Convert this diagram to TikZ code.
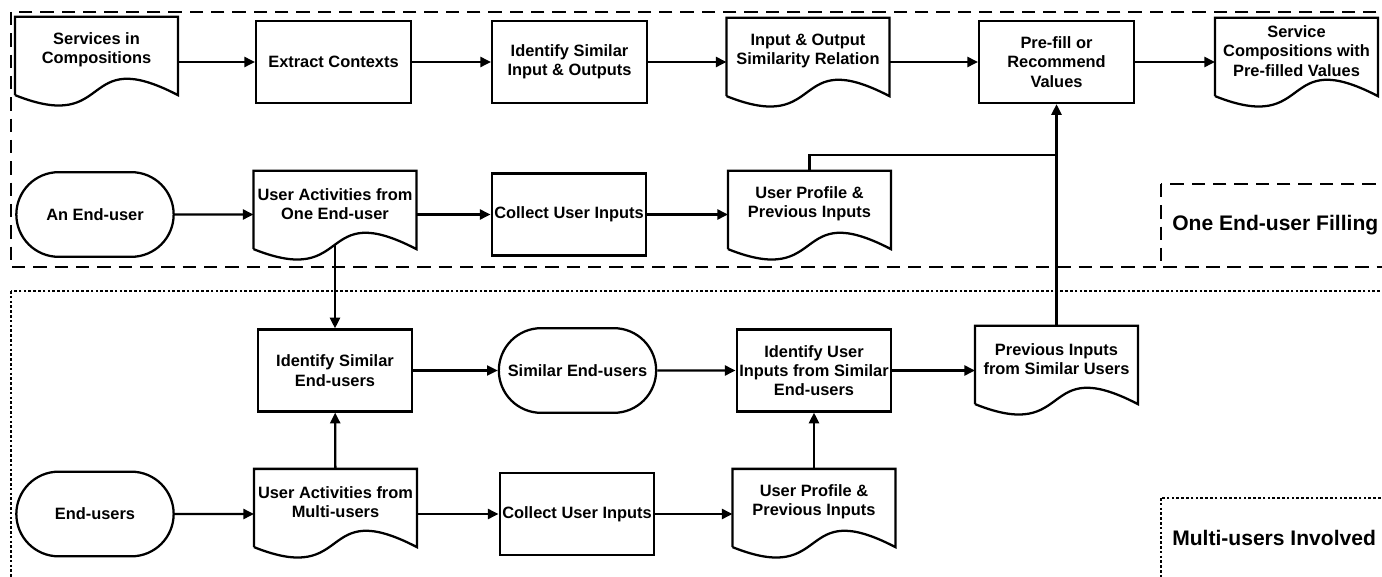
\documentclass[tikz,border=0pt]{standalone}
\usepackage{fontspec}
\setmainfont{Liberation Sans}
\usetikzlibrary{arrows.meta,shapes.misc}

\tikzset{
  flow/.style={line width=1.7pt, -{Triangle[length=8pt,width=7.5pt]}},
  wire/.style={line width=1.7pt},
  proc/.style={draw, line width=1.7pt, rectangle, minimum width=116pt, minimum height=61.5pt,
               inner sep=1pt, align=center, font=\bfseries\fontsize{12.3}{14.5}\selectfont},
  term/.style={proc, rounded rectangle, minimum width=120pt, minimum height=63.5pt},
  doc/.style={proc, draw=none, minimum width=120.5pt, minimum height=48pt},
  oneframe/.style={line width=1.5pt, dash pattern=on 10pt off 6pt},
  multiframe/.style={line width=1.5pt, dash pattern=on 2pt off 1.6pt},
  tag/.style={anchor=west, inner sep=0pt, font=\bfseries\fontsize{15.8}{18}\selectfont}
}

\begin{document}
\begin{tikzpicture}[x=0.75pt, y=-0.75pt]
  \useasboundingbox (0,0) rectangle (1382,577);
  \clip (0,0) rectangle (1382,577);

  % group frames
  \draw[oneframe] (11,12) rectangle (1420,267);
  \draw[multiframe] (11,291) rectangle (1420,620);
  \draw[oneframe] (1161,184) rectangle (1420,267);
  \draw[multiframe] (1161,498) rectangle (1420,620);
  \node[tag] (onetag) at (1172,225) {One End-user Filling};
  \node[tag] (multitag) at (1172,538) {Multi-users Involved};

  % one end-user
  \node[doc]  (svc)    at (96.5,50)    {Services in\\Compositions};
  \node[proc] (ext)    at (333.5,62)   {Extract Contexts};
  \node[proc] (idsim)  at (569.5,62)   {Identify Similar\\Input \& Outputs};
  \node[doc]  (rel)    at (808,51)     {Input \& Output\\Similarity Relation};
  \node[proc] (fill)   at (1056.5,62)  {Pre-fill or\\Recommend\\Values};
  \node[doc]  (res)    at (1296.5,51)  {Service\\Compositions with\\Pre-filled Values};

  \node[term] (end1)   at (95,214.5)   {An End-user};
  \node[doc]  (act1)   at (335,204)    {User Activities from\\One End-user};
  \node[proc] (col1)   at (569,214.5)  {Collect User Inputs};
  \node[doc]  (prof1)  at (809.5,204)  {User Profile \&\\Previous Inputs};

  % multi-users
  \node[proc] (simid)  at (335,370.5)  {Identify Similar\\End-users};
  \node[term] (simend) at (577.5,370.5){Similar End-users};
  \node[proc] (idin)   at (814,370.5)  {Identify User\\Inputs from Similar\\End-users};
  \node[doc]  (prev)   at (1056.5,359) {Previous Inputs\\from Similar Users};

  \node[term] (end2)   at (95,514)     {End-users};
  \node[doc]  (act2)   at (335.5,502)  {User Activities from\\Multi-users};
  \node[proc] (col2)   at (577,514)    {Collect User Inputs};
  \node[doc]  (prof2)  at (814,502)    {User Profile \&\\Previous Inputs};

  % document outlines with wavy bottom
  \foreach \d in {svc,rel,res,act1,prof1,prev,act2,prof2}
    \draw[wire] ([yshift=-9pt]\d.south west) -- (\d.north west) -- (\d.north east)
      -- ([yshift=-9pt]\d.south east)
      .. controls +(-100,-52) and +(100,40) .. ([yshift=-9pt]\d.south west);

  \coordinate (join) at (1056.5,155);

  % connectors
  \draw[flow] (svc.east |- ext) -- (ext);
  \draw[flow] (ext) -- (idsim);
  \draw[flow] (idsim) -- (idsim -| rel.west);
  \draw[flow] (rel.east |- fill) -- (fill);
  \draw[flow] (fill) -- (fill -| res.west);

  \draw[flow] (end1) -- (end1 -| act1.west);
  \draw[flow] (act1.east |- col1) -- (col1);
  \draw[flow] (col1) -- (col1 -| prof1.west);
  \draw[wire] (prof1.north) |- (join);

  \draw[flow] ([yshift=-5.6pt]act1.south) -- (simid);
  \draw[flow] (simid) -- (simend);
  \draw[flow] (simend) -- (idin);
  \draw[flow] (idin) -- (idin -| prev.west);
  \draw[flow] (prev.north) -- (fill.south);

  \draw[flow] (end2) -- (end2 -| act2.west);
  \draw[flow] (act2.east |- col2) -- (col2);
  \draw[flow] (col2) -- (col2 -| prof2.west);
  \draw[flow] (act2) -- (simid);
  \draw[flow] (prof2) -- (idin);
\end{tikzpicture}
\end{document}
